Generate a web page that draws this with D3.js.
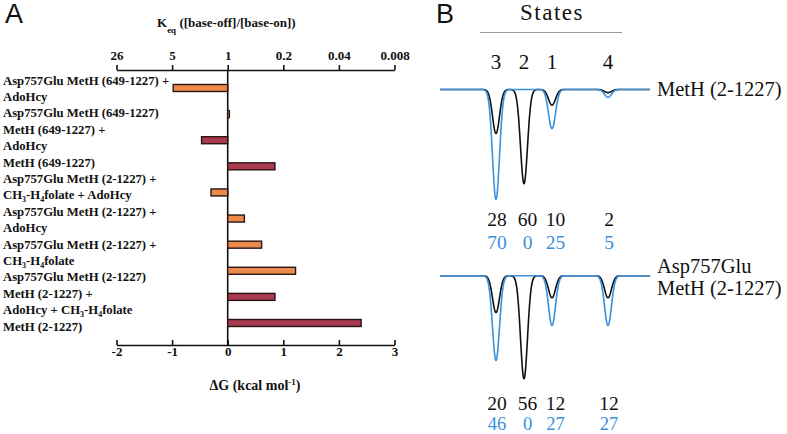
<!DOCTYPE html>
<html><head><meta charset="utf-8">
<script src="https://cdn.jsdelivr.net/npm/d3@7"></script>
<style>
html,body{margin:0;padding:0;background:#fff;}
svg{display:block;}
</style></head>
<body>
<svg id="chart" width="787" height="434"></svg>
<script>
// ---------- Panel A data ----------
const categories = [
  "Asp757Glu MetH (649-1227) +|AdoHcy",
  "Asp757Glu MetH (649-1227)",
  "MetH (649-1227) +|AdoHcy",
  "MetH (649-1227)",
  "Asp757Glu MetH (2-1227) +|CH_3-H_4folate + AdoHcy",
  "Asp757Glu MetH (2-1227) +|AdoHcy",
  "Asp757Glu MetH (2-1227) +|CH_3-H_4folate",
  "Asp757Glu MetH (2-1227)",
  "MetH (2-1227) +|AdoHcy + CH_3-H_4folate",
  "MetH (2-1227)"
];
const deltaG = [-0.98, 0.03, -0.47, 0.85, -0.30, 0.30, 0.61, 1.22, 0.85, 2.40];
const enzymeType = ["mutant","mutant","wt","wt","mutant","mutant","mutant","mutant","wt","wt"];
const dgTicks = [-2, -1, 0, 1, 2, 3];
const keqTickLabels = ["26", "5", "1", "0.2", "0.04", "0.008"];

// ---------- Panel B data ----------
const states = ["3", "2", "1", "4"];
const statePosition = [0, 1, 2, 4];
const metHBlack = [28, 60, 10, 2];
const metHBlue = [70, 0, 25, 5];
const aspBlack = [20, 56, 12, 12];
const aspBlue = [46, 0, 27, 27];

const svg = d3.select("#chart");
const serifBold = "'Liberation Serif', 'Times New Roman', serif";
const serifB = "'Liberation Serif', 'Times New Roman', serif";

// helper: write text with _N subscripts
function richText(sel, str, subShift, subSize) {
  const parts = str.split(/(_\d)/);
  let sub = false;
  parts.forEach(p => {
    if (!p) return;
    if (p[0] === "_") {
      sel.append("tspan").attr("dy", subShift).attr("font-size", subSize).text(p.slice(1));
      sub = true;
    } else {
      const t = sel.append("tspan").text(p);
      if (sub) { t.attr("dy", -subShift); sub = false; }
    }
  });
}

// ---------- Panel A ----------
const colors = { mutant: "#ec8a4c", wt: "#a93a50" };
const x = d3.scaleLinear().domain([-2, 3]).range([116.5, 394.5]);
const y = d3.scalePoint().domain(categories).range([88, 323]);
const topY = 70, botY = 345;
const barH = 7;

svg.append("text").attr("x", 5).attr("y", 23).attr("font-family", "'Liberation Sans', Arial, sans-serif")
  .attr("font-size", 27).attr("fill", "#111").text("A");

// top axis (Keq)
const axTop = svg.append("g").attr("transform", `translate(0,${topY})`)
  .call(d3.axisTop(x).tickValues(dgTicks).tickFormat((d, i) => keqTickLabels[i]).tickSizeInner(5).tickSizeOuter(0).tickPadding(5));
// bottom axis (ΔG)
const axBot = svg.append("g").attr("transform", `translate(0,${botY})`)
  .call(d3.axisBottom(x).tickValues(dgTicks).tickFormat(d3.format("d")).tickSizeInner(-5).tickSizeOuter(0).tickPadding(2));
[axTop, axBot].forEach(g => {
  g.select(".domain").attr("stroke", "#111").attr("stroke-width", 1.6);
  g.selectAll(".tick line").attr("stroke", "#111").attr("stroke-width", 1.6);
  g.selectAll(".tick text").attr("font-family", serifBold).attr("font-weight", "bold")
    .attr("font-size", 13).attr("fill", "#111");
});
axBot.selectAll(".tick text").text(d => d < 0 ? "-" + Math.abs(d) : d);

// zero line
svg.append("line").attr("x1", x(0)).attr("x2", x(0)).attr("y1", topY).attr("y2", botY)
  .attr("stroke", "#111").attr("stroke-width", 1.6);

// bars
svg.append("g").selectAll("rect").data(categories).join("rect")
  .attr("x", (d, i) => Math.min(x(0), x(deltaG[i])))
  .attr("width", (d, i) => Math.abs(x(deltaG[i]) - x(0)))
  .attr("y", d => y(d) - barH / 2)
  .attr("height", barH)
  .attr("fill", (d, i) => colors[enzymeType[i]])
  .attr("stroke", "#2a1414").attr("stroke-width", 1.4);

// category labels: all lines laid out on an even line grid
const labelLines = categories.flatMap(c => c.split("|"));
const lineY = d3.scalePoint().domain(d3.range(labelLines.length)).range([80, 326]);
const labG = svg.append("g").attr("font-family", serifBold).attr("font-weight", "bold")
  .attr("font-size", 12.7).attr("fill", "#111");
labelLines.forEach((ln, k) => {
  const t = labG.append("text").attr("x", 3).attr("y", lineY(k) + 4.5);
  richText(t, ln, 3, 8);
});

// titles
const keqT = svg.append("text").attr("x", 157).attr("y", 27).attr("font-family", serifBold)
  .attr("font-weight", "bold").attr("font-size", 13).attr("fill", "#111");
keqT.append("tspan").text("K");
keqT.append("tspan").attr("dy", 6).attr("font-size", 9).text("eq");
keqT.append("tspan").attr("dy", -6).text(" ([base-off]/[base-on])");

const dgT = svg.append("text").attr("x", 255).attr("y", 390).attr("text-anchor", "middle")
  .attr("font-family", serifBold).attr("font-weight", "bold").attr("font-size", 14).attr("fill", "#111");
dgT.append("tspan").text("\u0394G (kcal mol");
dgT.append("tspan").attr("dy", -5).attr("font-size", 9).text("-1");
dgT.append("tspan").attr("dy", 5).text(")");

// ---------- Panel B ----------
const blue = "#3b8fdc";
const sx = d3.scaleLinear().domain([-2, 5.5]).range([440, 650]);

svg.append("text").attr("x", 436).attr("y", 23).attr("font-family", "'Liberation Sans', Arial, sans-serif")
  .attr("font-size", 27).attr("fill", "#111").text("B");
svg.append("text").attr("x", 552).attr("y", 20).attr("text-anchor", "middle")
  .attr("font-family", serifB).attr("font-size", 23).attr("letter-spacing", 1.5).attr("fill", "#111").text("States");
svg.append("line").attr("x1", 480).attr("x2", 622).attr("y1", 32.5).attr("y2", 32.5)
  .attr("stroke", "#999").attr("stroke-width", 1);

svg.append("g").selectAll("text").data(states).join("text")
  .attr("x", (d, i) => sx(statePosition[i])).attr("y", 69).attr("text-anchor", "middle")
  .attr("font-family", serifB).attr("font-size", 21).attr("fill", "#111").text(d => d);

const sigma = 0.125;
const samples = d3.range(-2, 5.5001, 0.01);
function drawTrace(pcts, yScale, color) {
  const pts = samples.map(v => [v, d3.sum(pcts, (p, i) => p * Math.exp(-((v - statePosition[i]) ** 2) / (2 * sigma * sigma)))]);
  svg.append("path").datum(pts)
    .attr("d", d3.line().x(d => sx(d[0])).y(d => yScale(d[1])))
    .attr("fill", "none").attr("stroke", color).attr("stroke-width", 1.6).attr("stroke-linejoin", "round");
}
function drawNumbers(vals, yPos, color, size) {
  svg.append("g").selectAll("text").data(vals).join("text")
    .attr("x", (d, i) => sx(statePosition[i]) + (i === 1 || i === 2 ? 3.5 : 1)).attr("y", yPos)
    .attr("text-anchor", "middle").attr("font-family", serifB).attr("font-size", size)
    .attr("fill", color).text(d => d);
}

const y1 = d3.scaleLinear().domain([0, 100]).range([89.5, 89.5 + 157]);
const y2 = d3.scaleLinear().domain([0, 100]).range([275.7, 275.7 + 184]);
drawTrace(metHBlack, y1, "#111");
drawTrace(metHBlue, y1, blue);
drawTrace(aspBlack, y2, "#111");
drawTrace(aspBlue, y2, blue);

drawNumbers(metHBlack, 226, "#111", 19.5);
drawNumbers(metHBlue, 249, blue, 19.5);
drawNumbers(aspBlack, 409.5, "#111", 19.5);
drawNumbers(aspBlue, 430, blue, 18.5);

const trLab = svg.append("g").attr("font-family", serifB).attr("font-size", 20.5).attr("fill", "#111");
trLab.append("text").attr("x", 657).attr("y", 96).text("MetH (2-1227)");
trLab.append("text").attr("x", 657).attr("y", 273).text("Asp757Glu");
trLab.append("text").attr("x", 657).attr("y", 295).text("MetH (2-1227)");
</script>
</body></html>
